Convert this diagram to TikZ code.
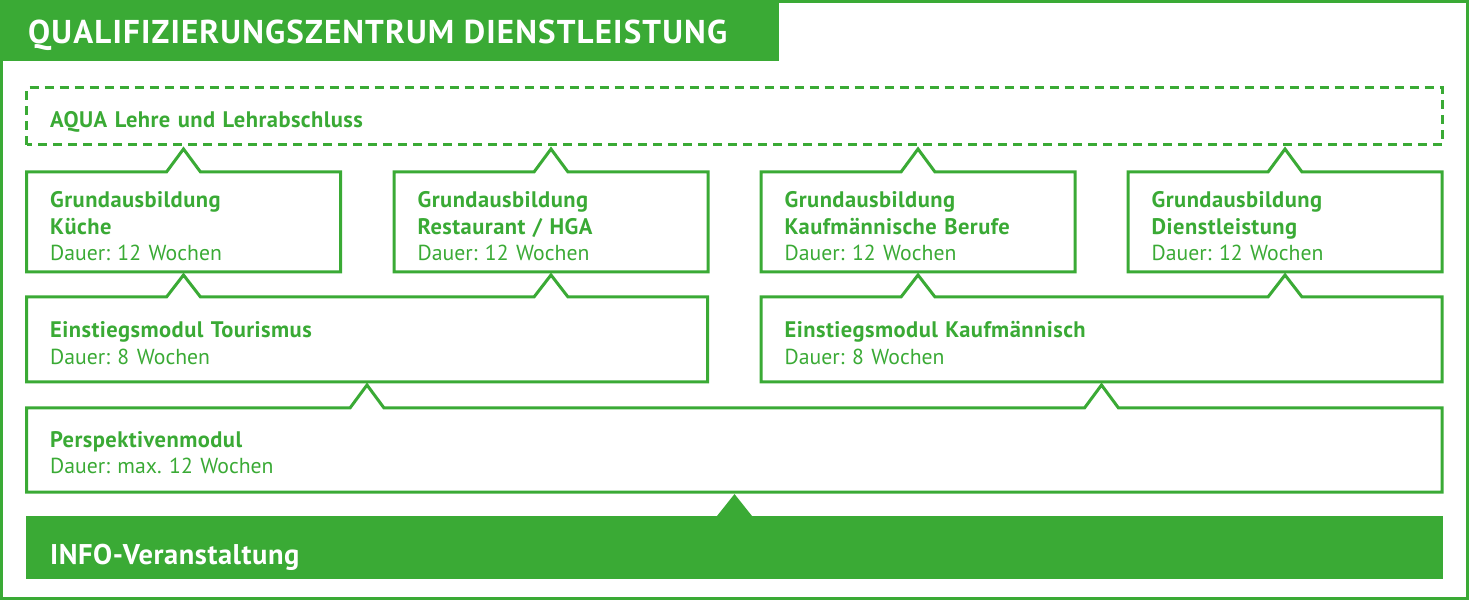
\documentclass[tikz,border=0pt]{standalone}
\usepackage{fontspec}
\setmainfont[LetterSpace=2]{PT Sans}
\newfontfamily\titelschrift[LetterSpace=3.5]{PT Sans}
\newfontfamily\dauerschrift{PT Sans}
\usepackage{xcolor}
\usepackage{tikz}
\usetikzlibrary{positioning,calc}
\definecolor{qgruen}{RGB}{58,170,53}
\frenchspacing
\newcommand{\dauer}{\dauerschrift\mdseries\fontsize{21.7}{26.5}\selectfont}

\begin{document}
\begin{tikzpicture}[x=1pt,y=1pt]
  \tikzstyle{feld}=[rectangle,inner sep=0pt,outer sep=0pt,minimum width=314pt,minimum height=100pt]
  \tikzstyle{rahmen}=[draw=qgruen,line width=3pt,line join=miter]
  \tikzstyle{kopf}=[anchor=base west,inner sep=0pt,align=left,text width=600pt,text=qgruen,font=\fontsize{22.5}{26.5}\selectfont\bfseries]
  \useasboundingbox (0,0) rectangle (1469,600);
  % aussenrahmen und titel
  \draw[rahmen] (1.5,1.5) rectangle (1467.5,598.5);
  \node[feld,fill=qgruen,anchor=north west,minimum width=779pt,minimum height=61pt] (titel) at (0,600) {};
  \node[anchor=base west,inner sep=0pt,text=white,font=\titelschrift\fontsize{33}{38}\selectfont\bfseries] (titeltext) at (28,556.5) {QUALIFIZIERUNGSZENTRUM DIENSTLEISTUNG};
  % felder
  \node[feld,minimum width=1415.5pt,minimum height=57pt] (aqua) at (734.25,483.5) {};
  \node[feld] (kueche) at (183.5,378) {};
  \node[feld] (restaurant) at (551,378) {};
  \node[feld] (kaufberufe) at (918,378) {};
  \node[feld] (dienst) at (1285,378) {};
  \node[feld,minimum width=681pt,minimum height=85pt] (tourismus) at (367,260.5) {};
  \node[feld,minimum width=681pt,minimum height=85pt] (kaufmodul) at (1101.5,260.5) {};
  \node[feld,minimum width=1415.5pt,minimum height=84pt] (perspektive) at (734.25,150) {};
  \node[feld,fill=qgruen,minimum width=1417pt,minimum height=63pt] (info) at (734.5,52.5) {};
  % umrisse mit zacken
  \draw[rahmen,dash pattern=on 9pt off 6pt] (aqua.south west) rectangle (aqua.north east);
  \foreach \f in {kueche,restaurant,kaufberufe,dienst}
    \draw[rahmen] (\f.south west) -- (\f.north west) -- ($(\f.north)+(-17,0)$) -- ++(17,23) -- ++(17,-23)
      -- (\f.north east) -- (\f.south east) -- cycle;
  \draw[rahmen] (tourismus.south west) -- (tourismus.north west)
    -- ($(kueche.south |- tourismus.north)+(-17,0)$) -- ++(17,22) -- ++(17,-22)
    -- ($(restaurant.south |- tourismus.north)+(-17,0)$) -- ++(17,22) -- ++(17,-22)
    -- (tourismus.north east) -- (tourismus.south east) -- cycle;
  \draw[rahmen] (kaufmodul.south west) -- (kaufmodul.north west)
    -- ($(kaufberufe.south |- kaufmodul.north)+(-17,0)$) -- ++(17,22) -- ++(17,-22)
    -- ($(dienst.south |- kaufmodul.north)+(-17,0)$) -- ++(17,22) -- ++(17,-22)
    -- (kaufmodul.north east) -- (kaufmodul.south east) -- cycle;
  \draw[rahmen] (perspektive.south west) -- (perspektive.north west)
    -- ($(tourismus.south |- perspektive.north)+(-17,0)$) -- ++(17,23) -- ++(17,-23)
    -- ($(kaufmodul.south |- perspektive.north)+(-17,0)$) -- ++(17,23) -- ++(17,-23)
    -- (perspektive.north east) -- (perspektive.south east) -- cycle;
  \fill[qgruen] ($(info.north)+(-17.5,0)$) -- ++(17.5,22) -- ++(17.5,-22) -- cycle;
  % texte
  \node[kopf] (aquatext) at ($(aqua.north west)+(23.5,-40)$) {AQUA Lehre und Lehrabschluss};
  \node[kopf] (kuechetext) at ($(kueche.north west)+(23.5,-36)$) {Grundausbildung\\K\"uche\\\dauer Dauer: 12 Wochen};
  \node[kopf] (restauranttext) at ($(restaurant.north west)+(23.5,-36)$) {Grundausbildung\\Restaurant / HGA\\\dauer Dauer: 12 Wochen};
  \node[kopf] (kaufberufetext) at ($(kaufberufe.north west)+(23.5,-36)$) {Grundausbildung\\Kaufm\"annische Berufe\\\dauer Dauer: 12 Wochen};
  \node[kopf] (diensttext) at ($(dienst.north west)+(23.5,-36)$) {Grundausbildung\\Dienstleistung\\\dauer Dauer: 12 Wochen};
  \node[kopf] (tourismustext) at ($(tourismus.north west)+(23.5,-41)$) {Einstiegsmodul Tourismus\\\dauer Dauer: 8 Wochen};
  \node[kopf] (kaufmodultext) at ($(kaufmodul.north west)+(23.5,-41)$) {Einstiegsmodul Kaufm\"annisch\\\dauer Dauer: 8 Wochen};
  \node[kopf] (perspektivetext) at ($(perspektive.north west)+(23.5,-39)$) {Perspektivenmodul\\\dauer Dauer: max. 12 Wochen};
  \node[anchor=base west,inner sep=0pt,text=white,font=\fontsize{28.5}{34}\selectfont\bfseries] (infotext) at ($(info.west)+(24,-16.5)$) {INFO-Veranstaltung};
\end{tikzpicture}
\end{document}
